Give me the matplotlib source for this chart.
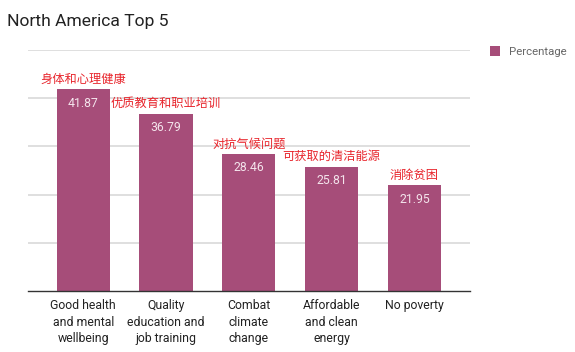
import numpy as np
import matplotlib
matplotlib.use("Agg")
import matplotlib.pyplot as plt

# data
categories = ["Good health\nand mental\nwellbeing",
              "Quality\neducation and\njob training",
              "Combat\nclimate\nchange",
              "Affordable\nand clean\nenergy",
              "No poverty"]
cn_labels = ["身体和心理健康", "优质教育和职业培训", "对抗气候问题",
             "可获取的清洁能源", "消除贫困"]
percentage = [41.87, 36.79, 28.46, 25.81, 21.95]

plt.rcParams['font.family'] = ['Roboto', 'DejaVu Sans']

bar_color = '#a64d79'

fig = plt.figure(figsize=(5.75, 3.52), dpi=100)
ax = fig.add_axes([0.0487, 0.173, 0.768, 0.685])

x = np.arange(len(categories))
bars = ax.bar(x, percentage, width=0.643, color=bar_color, zorder=3,
              label='Percentage')

ax.set_xlim(-0.666, 4.666)
ax.set_ylim(0, 50)
ax.set_yticks([10, 20, 30, 40, 50])
ax.yaxis.grid(True, color='#d9d9d9', linewidth=1.2, zorder=0)
ax.tick_params(axis='y', length=0, labelleft=False)
ax.set_xticks(x)
ax.set_xticklabels(categories, fontsize=8.8, color='#222222', linespacing=1.33)
ax.tick_params(axis='x', length=0, pad=6)

for s in ['top', 'right', 'left']:
    ax.spines[s].set_visible(False)
ax.spines['bottom'].set_color('#333333')
ax.spines['bottom'].set_linewidth(1.0)
ax.spines['bottom'].set_zorder(4)

# value labels inside bars
for xi, v in zip(x, percentage):
    ax.annotate(f"{v:.2f}", (xi, v), xytext=(0, -5.5), textcoords='offset points',
                ha='center', va='top', fontsize=8.8, color='#f4e4ec', zorder=5)

# chinese labels above bars
for xi, v, lab in zip(x, percentage, cn_labels):
    ax.annotate(lab, (xi, v), xytext=(0, 2.5), textcoords='offset points',
                ha='center', va='bottom', fontsize=8.8, color='#e8242b',
                family=['Noto Sans CJK SC', 'DejaVu Sans'], zorder=5)

fig.text(0.012, 0.94, "North America Top 5", fontsize=12.6, color='#222222',
         ha='left', va='center')

leg = ax.legend(loc='upper left', bbox_to_anchor=(1.035, 1.035), frameon=False,
                fontsize=8.2, handlelength=0.95, handleheight=0.95,
                handletextpad=0.75, borderaxespad=0)
for t in leg.get_texts():
    t.set_color('#666666')

fig.savefig("out.png", dpi=100)
